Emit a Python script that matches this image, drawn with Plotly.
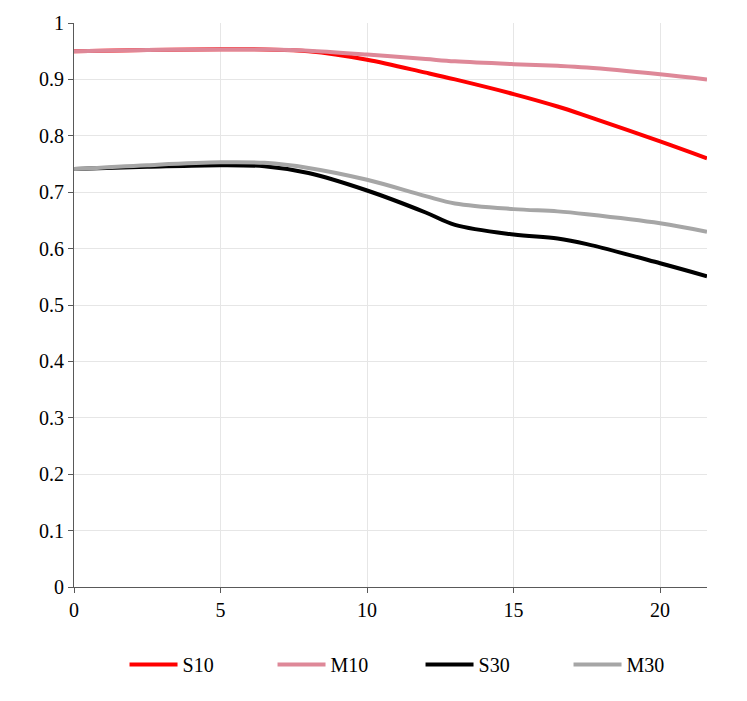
import plotly.graph_objects as go

x_vals = [0, 2.5, 5, 6.5, 8, 10, 12, 13, 15, 16.5, 17.5, 20, 21.6]
s10 = [0.950, 0.952, 0.9535, 0.953, 0.950, 0.935, 0.912, 0.900, 0.874, 0.852, 0.835, 0.790, 0.760]
m10 = [0.950, 0.952, 0.953, 0.953, 0.951, 0.944, 0.936, 0.932, 0.927, 0.924, 0.921, 0.909, 0.900]
s30 = [0.741, 0.745, 0.748, 0.746, 0.734, 0.703, 0.664, 0.642, 0.625, 0.618, 0.608, 0.574, 0.551]
m30 = [0.741, 0.748, 0.753, 0.752, 0.743, 0.722, 0.693, 0.680, 0.670, 0.666, 0.661, 0.645, 0.630]

series = [
    ("S10", s10, "#FF0000"),
    ("M10", m10, "#DE8898"),
    ("S30", s30, "#000000"),
    ("M30", m30, "#A6A6A6"),
]

fig = go.Figure()
for name, ys, col in series:
    fig.add_trace(go.Scatter(
        x=x_vals, y=ys, name=name, mode="lines",
        line=dict(color=col, width=4, shape="spline", smoothing=1.0),
    ))

font = dict(family="Liberation Serif, Times New Roman, serif", size=20, color="#000000")

fig.update_layout(
    width=747, height=701,
    margin=dict(l=74, r=40, t=23, b=114, autoexpand=False),
    paper_bgcolor="white", plot_bgcolor="white",
    font=font,
    showlegend=True,
    legend=dict(
        orientation="h", xref="container", x=0.1667, xanchor="left",
        yref="container", y=0.052, yanchor="middle",
        font=font, entrywidth=85, entrywidthmode="pixels",
        itemwidth=48,
    ),
    xaxis=dict(
        range=[0, 21.6], dtick=5, tick0=0,
        showgrid=True, gridcolor="#E6E6E6", gridwidth=1,
        showline=True, linecolor="#595959", linewidth=1,
        ticks="outside", ticklen=5, tickcolor="#595959",
        zeroline=False, tickfont=font,
    ),
    yaxis=dict(
        range=[0, 1], dtick=0.1, tick0=0,
        showgrid=True, gridcolor="#E6E6E6", gridwidth=1,
        showline=True, linecolor="#595959", linewidth=1,
        ticks="outside", ticklen=5, tickcolor="#595959",
        zeroline=False, tickfont=font, tickformat="~g",
    ),
)

fig.write_html("out.html")
